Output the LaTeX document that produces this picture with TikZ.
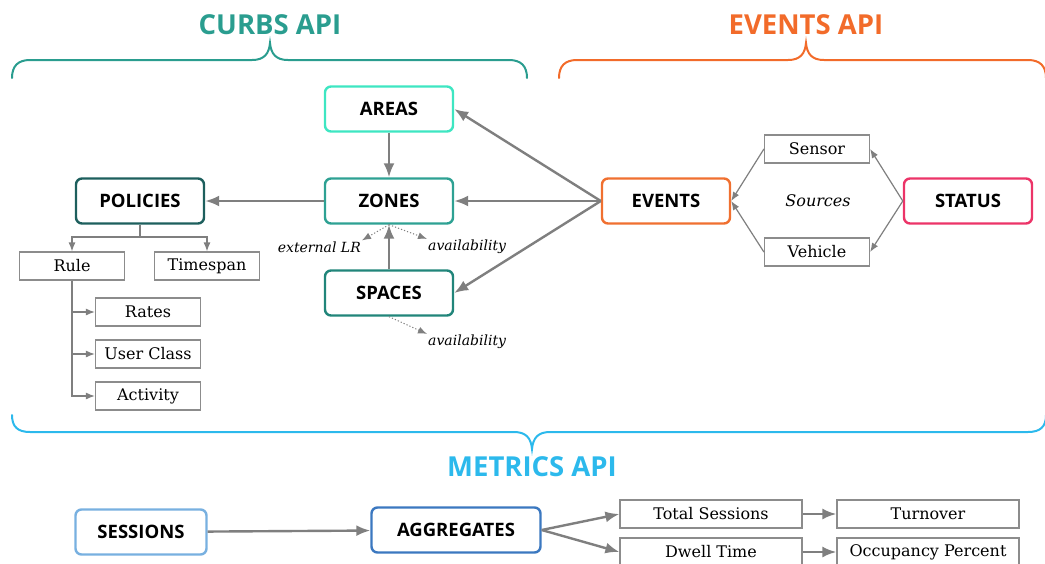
\documentclass[tikz,border=0pt]{standalone}
\usepackage{fontspec}
\setmainfont{DejaVu Serif}
\newfontfamily\headfont{Open Sans}
\usepackage{tikz}
\usetikzlibrary{shapes.geometric, arrows, arrows.meta}
\usetikzlibrary{positioning}

\definecolor{curbsCol}{HTML}{2A9D8F}
\definecolor{eventsApiCol}{HTML}{F26B2A}
\definecolor{metricsCol}{HTML}{2CB9EC}
\definecolor{areasCol}{HTML}{3EE6C2}
\definecolor{zonesCol}{HTML}{2EA193}
\definecolor{spacesCol}{HTML}{21857A}
\definecolor{policiesCol}{HTML}{1D5F5D}
\definecolor{eventsCol}{HTML}{F07030}
\definecolor{statusCol}{HTML}{EC3468}
\definecolor{sessionsCol}{HTML}{78B0E0}
\definecolor{aggregatesCol}{HTML}{3B78C0}
\definecolor{arrowGray}{HTML}{7F7F7F}
\definecolor{boxGray}{HTML}{8C8C8C}

\tikzstyle{apiTitle} = [font=\headfont\bfseries\fontsize{27.5}{30}\selectfont]
\tikzstyle{apiNode} = [
                rectangle,
                rounded corners=6pt,
                minimum width=128pt,
                minimum height=45pt,
                text centered,
                line width=2.4pt,
                fill=white,
                font=\headfont\bfseries\fontsize{18.5}{21}\selectfont
            ]
\tikzstyle{leafNode} = [rectangle, minimum width=105pt, minimum height=28pt, draw=boxGray, line width=1.2pt, font=\fontsize{16}{19}\selectfont]
\tikzstyle{noteText} = [inner sep=1pt, font=\itshape\fontsize{14}{16}\selectfont]
\tikzstyle{arrow} = [line width=2.4pt, draw=arrowGray, ->, >={Latex[length=14pt,width=11pt]}]
\tikzstyle{thinLine} = [line width=1.2pt, draw=arrowGray]
\tikzstyle{thinArrow} = [thinLine, ->, >={Latex[length=9pt,width=7pt]}]
\tikzstyle{dotArrow} = [thinArrow, dotted, line width=1pt]
\tikzstyle{brace} = [line width=2pt, line cap=round]

\begin{document}
\begin{tikzpicture}[x=1pt, y=-1pt, node distance=92pt]
\useasboundingbox (0,0) rectangle (1045,563);

% titles and braces
\node (curbsTitle) [apiTitle, text=curbsCol] at (270,25) {CURBS API};
\node (eventsTitle) [apiTitle, text=eventsApiCol] at (806,25) {EVENTS API};
\node (metricsTitle) [apiTitle, text=metricsCol] at (532,467) {METRICS API};
\draw [brace, draw=curbsCol] (12,78) .. controls (12,66) and (18,60) .. (30,60) -- (252,60)
      .. controls (264,60) and (269,54) .. (270,43) .. controls (271,54) and (276,60) .. (288,60)
      -- (509,60) .. controls (521,60) and (527,66) .. (527,78);
\draw [brace, draw=eventsApiCol] (559,78) .. controls (559,66) and (565,60) .. (577,60) -- (788,60)
      .. controls (800,60) and (805,54) .. (806,43) .. controls (807,54) and (812,60) .. (824,60)
      -- (1028,60) .. controls (1040,60) and (1046,66) .. (1046,78);
\draw [brace, draw=metricsCol] (12,415) .. controls (12,427) and (18,432) .. (30,432) -- (514,432)
      .. controls (526,432) and (531,438) .. (532,449) .. controls (533,438) and (538,432) .. (550,432)
      -- (1028,432) .. controls (1040,432) and (1046,427) .. (1046,415);

% curbs api
\node (areas) [apiNode, draw=areasCol] at (389,109) {AREAS};
\node (zones) [apiNode, draw=zonesCol, below of=areas] {ZONES};
\node (spaces) [apiNode, draw=spacesCol, below of=zones] {SPACES};
\node (policies) [apiNode, draw=policiesCol] at (140,201) {POLICIES};
\node (rule) [leafNode] at (72,266) {Rule};
\node (timespan) [leafNode] at (207,266) {Timespan};
\node (rates) [leafNode] at (148,312) {Rates};
\node (userClass) [leafNode] at (148,354) {User Class};
\node (activity) [leafNode] at (148,396) {Activity};
\node (extLR) [noteText, anchor=east] at (362,247) {external LR};
\node (availZones) [noteText, anchor=west] at (427,247) {availability};
\node (availSpaces) [noteText, anchor=west] at (427,342) {availability};

\draw [arrow] (areas) -- (zones);
\draw [arrow] (spaces) -- (zones);
\draw [arrow] (zones) -- (policies);
\coordinate (policiesFork) at (140,237);
\draw [thinLine] (policies) -- (policiesFork);
\draw [thinArrow] (policiesFork) -| (rule.north);
\draw [thinArrow] (policiesFork) -| (timespan.north);
\draw [thinArrow] (rule.south) |- (rates);
\draw [thinArrow] (rule.south) |- (userClass);
\draw [thinArrow] (rule.south) |- (activity);
\draw [dotArrow] (zones.south) -- (extLR.north east);
\draw [dotArrow] (zones.south) -- (availZones.north west);
\draw [dotArrow] (spaces.south) -- (availSpaces.north west);

% events api
\node (events) [apiNode, draw=eventsCol] at (666,201) {EVENTS};
\node (status) [apiNode, draw=statusCol] at (968,201) {STATUS};
\node (sensor) [leafNode] at (817,149) {Sensor};
\node (vehicle) [leafNode] at (817,252) {Vehicle};
\node (sources) [font=\itshape\fontsize{16}{19}\selectfont] at (818,201) {Sources};

\draw [arrow] (events.west) -- (areas.east);
\draw [arrow] (events.west) -- (zones.east);
\draw [arrow] (events.west) -- (spaces.east);
\draw [thinArrow] (sensor.west) -- (events.east);
\draw [thinArrow] (vehicle.west) -- (events.east);
\draw [thinArrow] (status.west) -- (sensor.east);
\draw [thinArrow] (status.west) -- (vehicle.east);

% metrics api
\node (sessions) [apiNode, draw=sessionsCol, minimum width=131pt] at (141,532) {SESSIONS};
\node (aggregates) [apiNode, draw=aggregatesCol, minimum width=169pt] at (456,530) {AGGREGATES};
\node (totalSessions) [leafNode, minimum width=182pt] at (711,514) {Total Sessions};
\node (turnover) [leafNode, minimum width=182pt] at (928,514) {Turnover};
\node (dwellTime) [leafNode, minimum width=182pt] at (711,552) {Dwell Time};
\node (occupancy) [leafNode, minimum width=182pt] at (928,552) {Occupancy Percent};

\draw [arrow] (sessions) -- (aggregates);
\draw [arrow] (aggregates.east) -- (totalSessions.west);
\draw [arrow] (aggregates.east) -- (dwellTime.west);
\draw [arrow] (totalSessions) -- (turnover);
\draw [arrow] (dwellTime) -- (occupancy);
\end{tikzpicture}
\end{document}
